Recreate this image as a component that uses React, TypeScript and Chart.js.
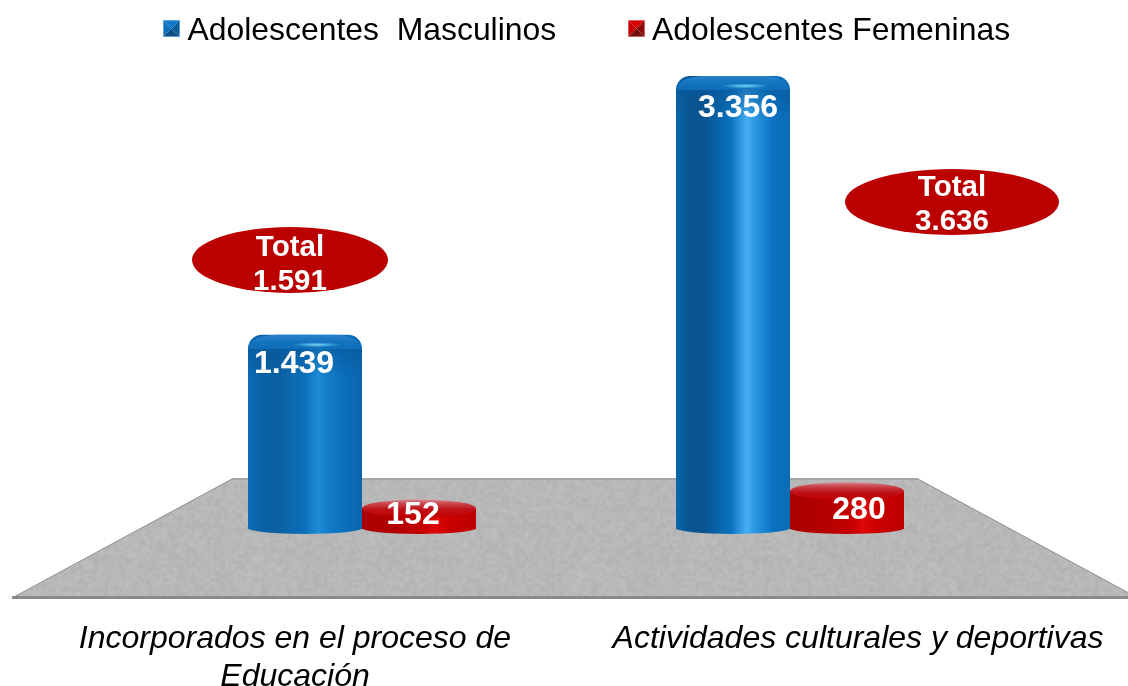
import React, { useEffect, useRef } from "react";
import { Chart, registerables } from "chart.js";

Chart.register(...registerables);

const categories = [["Incorporados en el proceso de", "Educación"], "Actividades culturales y deportivas"];
const seriesNames = ["Adolescentes  Masculinos", "Adolescentes Femeninas"];
const masculinos = [1439, 3356];
const femeninas = [152, 280];
const totals = [1591, 3636];

const CAT_PCT = 228 / 428;
const labelShift = [-67, 68];
const valueLabelNudge = [
  [[-11, 38], [5, 41]],
  [[-6, 15.5], [12, 28]],
];
const totalShapes = [
  { dx: -72, y: 260, rx: 98, ry: 33, dy1: -4, dy2: 30 },
  { dx: 162, y: 202, rx: 107, ry: 33, dy1: -6, dy2: 28 },
];
const legendLayout = [
  { box: 163, text: 187.5, colors: ["#0f78c8", "#0e70be", "#0c4f86", "#0c5c9a"], rim: "rgba(120,170,215,0.8)" },
  { box: 628, text: 652, colors: ["#d60000", "#cc0000", "#701010", "#8c0a0a"], rim: "rgba(220,120,120,0.8)" },
];
const blueStops = [
  [[0, "#0a6cb6"], [0.12, "#0a62a8"], [0.25, "#0a609f"], [0.5, "#0b70bc"], [0.62, "#1f8cd8"], [0.7, "#137cc8"], [0.85, "#0a6fbc"], [1, "#0a66ae"]],
  [[0, "#0a66ac"], [0.12, "#08558f"], [0.25, "#085490"], [0.48, "#0b72c0"], [0.62, "#45aef2"], [0.7, "#2a96e0"], [0.85, "#0a72c2"], [1, "#0b6cb6"]],
];
const redStops = [[0, "#a80000"], [0.3, "#b40000"], [0.55, "#c60000"], [0.63, "#e00808"], [0.75, "#cc0000"], [1, "#bc0000"]];

const fmt = (n: number) => String(n).replace(/\B(?=(\d{3})+$)/g, ".");

function barGradient(ctx: CanvasRenderingContext2D, left: number, width: number, stops: any[]) {
  const g = ctx.createLinearGradient(left, 0, left + width, 0);
  stops.forEach(([o, c]) => g.addColorStop(o, c));
  return g;
}

function barFill(c: any) {
  const chart = c.chart;
  const ds = c.datasetIndex;
  const i = c.dataIndex;
  if (i === undefined || !chart.chartArea) return ds === 0 ? "#0b70bc" : "#c60000";
  const x = chart.scales.x;
  const w = ((x.width / 2) * CAT_PCT) / 2;
  const center = x.getPixelForValue(i);
  return barGradient(chart.ctx, ds === 0 ? center - w : center, w, ds === 0 ? blueStops[i] : redStops);
}

function floorPattern(ctx: CanvasRenderingContext2D) {
  const small = document.createElement("canvas");
  small.width = small.height = 110;
  const sc = small.getContext("2d")!;
  const img = sc.createImageData(110, 110);
  for (let y = 0; y < 110; y++) {
    for (let x = 0; x < 110; x++) {
      const h = Math.sin(x * 12.9898 + y * 78.233) * 43758.5453;
      const v = 178 + (h - Math.floor(h)) * 12;
      const p = (y * 110 + x) * 4;
      img.data[p] = img.data[p + 1] = img.data[p + 2] = v;
      img.data[p + 3] = 255;
    }
  }
  sc.putImageData(img, 0, 0);
  const big = document.createElement("canvas");
  big.width = big.height = 330;
  const bc = big.getContext("2d")!;
  bc.imageSmoothingEnabled = true;
  bc.drawImage(small, 0, 0, 330, 330);
  return ctx.createPattern(big, "repeat")!;
}

const floorPlugin = {
  id: "floor",
  beforeDatasetsDraw(chart: any) {
    const { ctx } = chart;
    const base = chart.scales.y.getPixelForValue(0);
    const top = base - 50;
    const bottom = base + 69;
    ctx.save();
    ctx.beginPath();
    ctx.moveTo(232, top);
    ctx.lineTo(918, top);
    ctx.lineTo(1138, bottom);
    ctx.lineTo(12, bottom);
    ctx.closePath();
    ctx.fillStyle = floorPattern(ctx);
    ctx.fill();
    ctx.strokeStyle = "#8e8e8e";
    ctx.lineWidth = 1;
    ctx.stroke();
    ctx.fillStyle = "#8a8a8a";
    ctx.fillRect(12, bottom - 2, 1116, 3);
    ctx.fillStyle = "#a6a6a6";
    ctx.fillRect(232, top - 1, 686, 2);
    ctx.restore();

    // rounded bottoms of the cylinders
    [1, 0].forEach((ds) => {
      chart.getDatasetMeta(ds).data.forEach((bar: any, i: number) => {
        const left = bar.x - bar.width / 2;
        ctx.save();
        ctx.fillStyle = barGradient(ctx, left, bar.width, ds === 0 ? blueStops[i] : redStops);
        ctx.beginPath();
        ctx.ellipse(bar.x, base - 1, bar.width / 2, 6, 0, 0, Math.PI);
        ctx.fill();
        ctx.restore();
      });
    });
  },
};

const capsPlugin = {
  id: "caps",
  afterDatasetsDraw(chart: any) {
    const { ctx } = chart;
    // blue caps: soft shading at the dome, no hard lower edge
    chart.getDatasetMeta(0).data.forEach((bar: any) => {
      const rx = bar.width / 2;
      ctx.save();
      const band = ctx.createLinearGradient(0, bar.y + 8, 0, bar.y + 42);
      band.addColorStop(0, "rgba(8,90,160,0.75)");
      band.addColorStop(0.4, "rgba(8,85,150,0.45)");
      band.addColorStop(1, "rgba(8,85,150,0)");
      ctx.fillStyle = band;
      ctx.beginPath();
      ctx.moveTo(bar.x - rx, bar.y + 14);
      ctx.lineTo(bar.x + rx, bar.y + 14);
      ctx.lineTo(bar.x + rx, bar.y + 42);
      ctx.lineTo(bar.x - rx, bar.y + 42);
      ctx.closePath();
      ctx.fill();
      const g = ctx.createLinearGradient(0, bar.y, 0, bar.y + 15);
      g.addColorStop(0, "#2a83c8");
      g.addColorStop(0.5, "#1273bf");
      g.addColorStop(1, "rgba(15,110,185,0.85)");
      ctx.fillStyle = g;
      ctx.beginPath();
      ctx.moveTo(bar.x - rx, bar.y + 14);
      ctx.quadraticCurveTo(bar.x - rx + 2, bar.y + 1, bar.x - rx + 28, bar.y);
      ctx.lineTo(bar.x + rx - 28, bar.y);
      ctx.quadraticCurveTo(bar.x + rx - 2, bar.y + 1, bar.x + rx, bar.y + 14);
      ctx.closePath();
      ctx.fill();
      // lens highlight
      ctx.translate(bar.x + 12, bar.y + 10);
      ctx.scale(1, 0.1);
      const lens = ctx.createRadialGradient(0, 0, 0, 0, 0, 24);
      lens.addColorStop(0, "rgba(120,220,250,0.95)");
      lens.addColorStop(1, "rgba(120,220,250,0)");
      ctx.fillStyle = lens;
      ctx.beginPath();
      ctx.arc(0, 0, 24, 0, Math.PI * 2);
      ctx.fill();
      ctx.restore();
    });
    // red caps
    chart.getDatasetMeta(1).data.forEach((bar: any) => {
      const rx = bar.width / 2;
      const ry = 9;
      ctx.save();
      const g = ctx.createLinearGradient(0, bar.y - ry, 0, bar.y + ry);
      g.addColorStop(0, "#d98a90");
      g.addColorStop(0.22, "#c9484f");
      g.addColorStop(0.55, "#bf1218");
      g.addColorStop(1, "#c00000");
      ctx.fillStyle = g;
      ctx.beginPath();
      ctx.ellipse(bar.x, bar.y, rx, ry, 0, 0, Math.PI * 2);
      ctx.fill();
      ctx.restore();
    });
    // value labels
    ctx.save();
    ctx.font = 'bold 32px "Liberation Sans"';
    ctx.fillStyle = "#ffffff";
    ctx.textAlign = "center";
    ctx.textBaseline = "alphabetic";
    chart.data.datasets.forEach((d: any, ds: number) => {
      chart.getDatasetMeta(ds).data.forEach((bar: any, i: number) => {
        const [dx, dy] = valueLabelNudge[ds][i];
        ctx.fillText(fmt(d.data[i]), bar.x + dx, bar.y + dy);
      });
    });
    ctx.restore();
    // totals
    totals.forEach((t, i) => {
      const s = totalShapes[i];
      const cx = chart.scales.x.getPixelForValue(i) + s.dx;
      ctx.save();
      ctx.fillStyle = "#bb0000";
      ctx.beginPath();
      ctx.ellipse(cx, s.y, s.rx, s.ry, 0, 0, Math.PI * 2);
      ctx.fill();
      ctx.font = 'bold 29.5px "Liberation Sans"';
      ctx.fillStyle = "#ffffff";
      ctx.textAlign = "center";
      ctx.fillText("Total", cx, s.y + s.dy1);
      ctx.fillText(fmt(t), cx, s.y + s.dy2);
      ctx.restore();
    });
    // legend
    chart.data.datasets.forEach((d: any, ds: number) => {
      const l = legendLayout[ds];
      const size = 17;
      const y0 = 20;
      const x0 = l.box;
      const cx = x0 + size / 2;
      const cy = y0 + size / 2;
      const corners = [[x0, y0], [x0 + size, y0], [x0 + size, y0 + size], [x0, y0 + size]];
      const order = [[0, 1, 0], [3, 0, 1], [2, 3, 2], [1, 2, 3]];
      ctx.save();
      order.forEach(([a, b, c]) => {
        ctx.fillStyle = l.colors[c];
        ctx.beginPath();
        ctx.moveTo(corners[a][0], corners[a][1]);
        ctx.lineTo(corners[b][0], corners[b][1]);
        ctx.lineTo(cx, cy);
        ctx.closePath();
        ctx.fill();
      });
      ctx.strokeStyle = l.rim;
      ctx.lineWidth = 1;
      ctx.strokeRect(x0 + 0.5, y0 + 0.5, size - 1, size - 1);
      ctx.font = '31.9px "Liberation Sans"';
      ctx.fillStyle = "#000000";
      ctx.textAlign = "left";
      ctx.fillText(d.label, l.text, 39.5);
      ctx.restore();
    });
  },
};

export default function App() {
  const ref = useRef<HTMLCanvasElement>(null);
  useEffect(() => {
    document.body.style.margin = "0";
    const chart = new Chart(ref.current!, {
      type: "bar",
      data: {
        labels: categories as any,
        datasets: [
          { label: seriesNames[0], data: masculinos, backgroundColor: barFill, borderRadius: { topLeft: 14, topRight: 14, bottomLeft: 0, bottomRight: 0 }, borderSkipped: false } as any,
          { label: seriesNames[1], data: femeninas, backgroundColor: barFill, borderWidth: 0 } as any,
        ],
      },
      options: {
        responsive: false,
        animation: false,
        layout: { padding: { left: 148, right: 124, top: 56.5, bottom: 0 } },
        plugins: { legend: { display: false }, tooltip: { enabled: false }, title: { display: false } },
        datasets: { bar: { categoryPercentage: CAT_PCT, barPercentage: 1 } },
        scales: {
          x: {
            type: "category",
            grid: { display: false, drawTicks: false },
            border: { display: false },
            ticks: {
              autoSkip: false,
              maxRotation: 0,
              minRotation: 0,
              padding: 91,
              color: "#000000",
              font: { family: '"Liberation Sans"', size: 32, style: "italic", lineHeight: 1.18 },
            },
            afterBuildTicks(scale: any) {
              scale.getPixelForTick = (i: number) => scale.getPixelForValue(i) + labelShift[i];
            },
            afterFit(scale: any) {
              scale.height = 157;
              scale.paddingLeft = 0;
              scale.paddingRight = 0;
            },
          },
          y: { min: 0, max: 3500, display: false },
        },
      } as any,
      plugins: [floorPlugin, capsPlugin],
    });
    return () => chart.destroy();
  }, []);
  return (
    <div style={{ position: "absolute", left: 0, top: 0, width: 1128, height: 686, background: "#fff" }}>
      <canvas ref={ref} width={1128} height={686} style={{ display: "block" }} />
    </div>
  );
}
